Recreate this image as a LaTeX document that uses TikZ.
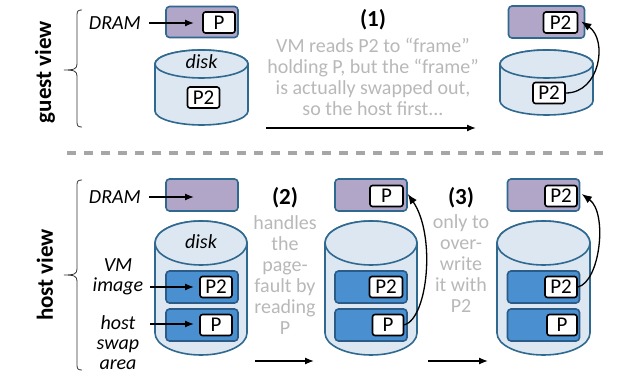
\documentclass[tikz,border=0pt]{standalone}
\usepackage{fontspec}
\setmainfont{Carlito}
\usetikzlibrary{arrows.meta}
\definecolor{purp}{HTML}{B1A5C8}
\definecolor{bord}{HTML}{30698F}
\definecolor{diskfill}{HTML}{DCE7F1}
\definecolor{innerfill}{HTML}{4A90D1}
\definecolor{innerbord}{HTML}{2B5C87}
\definecolor{greytext}{HTML}{B8B8B8}
\definecolor{dashgrey}{HTML}{A6A6A6}
\tikzset{
  dramrect/.style={draw=bord, fill=purp, line width=1.6pt, rounded corners=3.5pt, minimum width=72pt, minimum height=31pt, inner sep=0pt},
  innerrect/.style={draw=innerbord, fill=innerfill, line width=1.6pt, rounded corners=3.5pt, minimum width=72pt, minimum height=32pt, inner sep=0pt},
  pbox/.style={draw=black, fill=white, line width=1.6pt, rounded corners=2.5pt, minimum width=32pt, minimum height=21pt, inner sep=0pt, font=\fontsize{21}{21}\selectfont},
  disk/.style={draw=bord, fill=diskfill, line width=1.6pt},
  lbl/.style={font=\fontsize{20}{20}\selectfont\itshape, align=center, inner sep=0pt},
  viewlbl/.style={font=\fontsize{23}{23}\selectfont\bfseries, rotate=90, inner sep=0pt},
  stepnum/.style={font=\fontsize{23}{23}\selectfont\bfseries, inner sep=0pt},
  greytxt/.style={text=greytext, font=\fontsize{20}{21}\selectfont, align=center, inner sep=0pt},
  arr/.style={-{Latex[length=9pt,width=7pt]}, line width=1.3pt},
  carr/.style={-{Latex[length=10pt,width=8pt]}, line width=1.3pt},
  brace/.style={line width=0.8pt, draw=black!80},
}
\newcommand{\mydisk}[5]{% cx, rx, ytop-center, ybot-center, ry
  \path[disk] (#1-#2,#3) -- (#1-#2,#4) arc[start angle=180, end angle=0, x radius=#2, y radius=#5] -- (#1+#2,#3) arc[start angle=0, end angle=-180, x radius=#2, y radius=#5] -- cycle;
  \path[disk] (#1,#3) ellipse[x radius=#2, y radius=#5];
}
\begin{document}
\begin{tikzpicture}[x=1pt,y=-1pt]
\useasboundingbox (0,0) rectangle (637,379);

% ---- guest view ----
\node[viewlbl] (gview) at (45,72) {guest view};
\draw[brace] (82,10) .. controls (78,10) and (77,11) .. (77,15) -- (77,64) .. controls (77,69) and (74,70) .. (64,70) .. controls (74,70) and (77,71) .. (77,76) -- (77,122) .. controls (77,126) and (78,127) .. (82,127);

\node[lbl, anchor=east] (gdramlbl) at (141,23) {DRAM};
\node[dramrect] (gdram) at (202,22) {};
\node[pbox] (gP) at (219,22.5) {P};
\coordinate (gdramin) at (194,23);
\draw[arr] (gdramlbl.east) ++(8,0) -- (gdramin);

\mydisk{201.5}{46.5}{64}{111}{14}
\node[lbl] (gdisklbl) at (201.5,62) {disk};
\node[pbox] (gP2) at (203.5,97.5) {P2};

\node[stepnum] (s1) at (373,20) {(1)};
\node[greytxt] (t1) at (373,77) {VM reads P2 to “frame”\\holding P, but the “frame”\\is actually swapped out,\\so the host first...};
\coordinate (a1s) at (266,128);
\coordinate (a1e) at (476,128);
\draw[arr] (a1s) -- (a1e);

\node[dramrect, minimum width=76pt, minimum height=32pt] (g2dram) at (546.5,22) {};
\node[pbox, minimum width=34pt] (g2P2) at (560.5,22.5) {P2};
\mydisk{546.5}{46.5}{64}{101}{14}
\node[pbox] (g2dP2) at (549,93) {P2};
\draw[carr] (g2dP2.east) .. controls (600,93) and (608,40) .. ([xshift=3pt,yshift=1pt]g2P2.east);

% ---- separator ----
\coordinate (sepl) at (67,153);
\coordinate (sepr) at (610,153);
\draw[dashgrey, line width=3.2pt, dash pattern=on 9pt off 8pt] (sepl) -- (sepr);

% ---- host view ----
\node[viewlbl] (hview) at (45,275) {host view};
\draw[brace] (82,180) .. controls (78,180) and (77,181) .. (77,185) -- (77,269) .. controls (77,274) and (74,275) .. (64,275) .. controls (74,275) and (77,276) .. (77,281) -- (77,365) .. controls (77,369) and (78,370) .. (82,370);

\node[lbl, anchor=east] (hdramlbl) at (141,197) {DRAM};
\node[dramrect, minimum height=32pt] (hdram) at (202,195) {};
\coordinate (hdramin) at (194,197);
\draw[arr] (hdramlbl.east) ++(8,0) -- (hdramin);

\mydisk{201}{46}{243}{333}{22}
\node[lbl] (hdisklbl) at (201,242) {disk};
\node[innerrect] (hvm) at (202,287) {};
\node[innerrect] (hswap) at (202,325) {};
\node[pbox] (hP2) at (216,287) {P2};
\node[pbox] (hP) at (216,325) {P};

\node[lbl] (vmlbl) at (118,277) {VM\\image};
\node[lbl] (swaplbl) at (118,343) {host\\swap\\area};
\coordinate (vmin) at (194,287);
\coordinate (swapin) at (194,324);
\draw[arr] (150,287) -- (vmin);
\draw[arr] (150,324) -- (swapin);

\node[stepnum] (s2) at (285,198) {(2)};
\node[greytxt] (t2) at (285,275) {handles\\the\\page-\\fault by\\reading\\P};
\coordinate (a2s) at (255,361);
\coordinate (a2e) at (314,361);
\draw[arr] (a2s) -- (a2e);

\node[dramrect, minimum height=32pt] (mdram) at (371,195) {};
\node[pbox, minimum width=33pt] (mdP) at (386.5,196) {P};
\mydisk{371}{46}{243}{333}{22}
\node[innerrect] (mvm) at (371,287) {};
\node[innerrect] (mswap) at (371,325) {};
\node[pbox, minimum width=33pt] (mP2) at (386,287) {P2};
\node[pbox, minimum width=31pt] (mP) at (388,325) {P};
\draw[carr] (mP.east) .. controls (428,318) and (436,235) .. ([xshift=4pt,yshift=2pt]mdP.east);

\node[stepnum] (s3) at (461,198) {(3)};
\node[greytxt] (t3) at (461,264) {only to\\over-\\write\\it with\\P2};
\coordinate (a3s) at (428,361);
\coordinate (a3e) at (488,361);
\draw[arr] (a3s) -- (a3e);

\node[dramrect, minimum height=32pt] (rdram) at (543.5,195) {};
\node[pbox] (rdP2) at (561,196) {P2};
\mydisk{543.5}{46.5}{243}{333}{22}
\node[innerrect] (rvm) at (543.5,287) {};
\node[innerrect] (rswap) at (543.5,325) {};
\node[pbox] (rP2) at (561,287) {P2};
\node[pbox, minimum width=30pt] (rP) at (562,325) {P};
\draw[carr] (rP2.east) .. controls (600,282) and (608,213) .. ([xshift=4pt,yshift=2pt]rdP2.east);
\end{tikzpicture}
\end{document}
